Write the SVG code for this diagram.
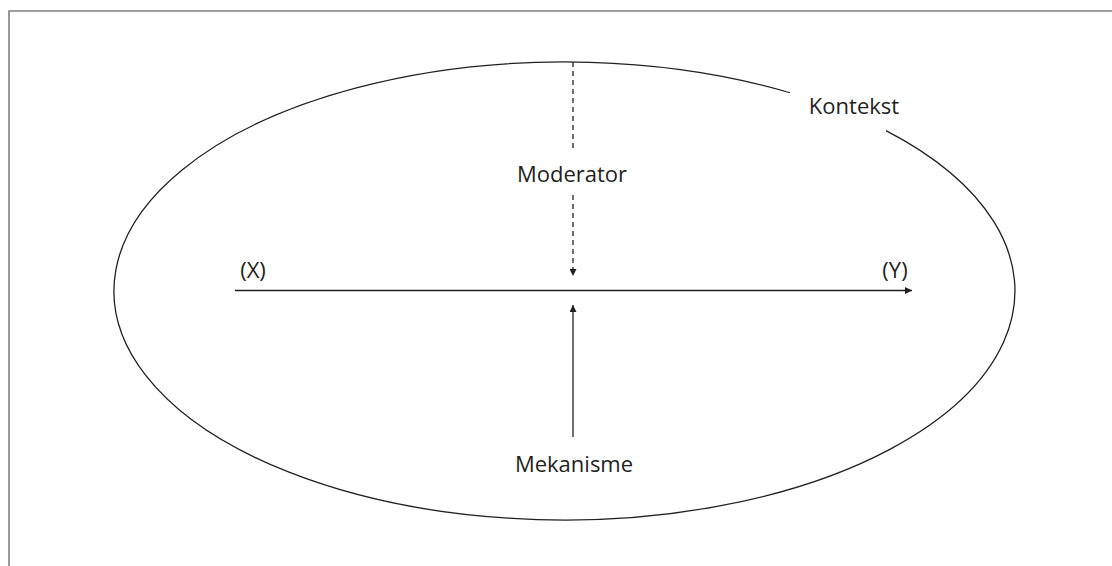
<svg xmlns="http://www.w3.org/2000/svg" width="1112" height="566" viewBox="0 0 1112 566">
<style>
.lbl{font-family:"Open Sans","Liberation Sans",sans-serif;font-size:22px;fill:#231f20;text-anchor:middle}
.ln{stroke:#231f20;stroke-width:1.3;fill:none}
.frame{stroke:#808080;stroke-width:1.6;fill:none}
</style>
<defs>
<marker id="ah" viewBox="0 0 10 10" refX="10" refY="5" markerWidth="7" markerHeight="7" markerUnits="userSpaceOnUse" orient="auto">
<path d="M0,0 L10,5 L0,10 Z" fill="#231f20"/>
</marker>
</defs>
<rect width="1112" height="566" fill="#fff"/>
<path class="frame" d="M9,566 V11 H1112"/>
<g id="kontekst">
<path class="ln" d="M790,92.75 A450.5 229 0 1 0 886,130.59"/>
<text class="lbl" x="854" y="114">Kontekst</text>
</g>
<g id="x"><text class="lbl" x="253" y="278">(X)</text></g>
<g id="y"><text class="lbl" x="895" y="278">(Y)</text></g>
<g id="moderator"><text class="lbl" x="572" y="182">Moderator</text></g>
<g id="mekanisme"><text class="lbl" x="574" y="472">Mekanisme</text></g>
<g id="connectors">
<line class="ln" x1="235" y1="290.5" x2="912" y2="290.5" marker-end="url(#ah)"/>
<line class="ln" x1="573" y1="62" x2="573" y2="152" stroke-dasharray="5,4"/>
<line class="ln" x1="573" y1="195" x2="573" y2="276" stroke-dasharray="5,4" marker-end="url(#ah)"/>
<line class="ln" x1="573" y1="437" x2="573" y2="305" marker-end="url(#ah)"/>
</g>
</svg>
